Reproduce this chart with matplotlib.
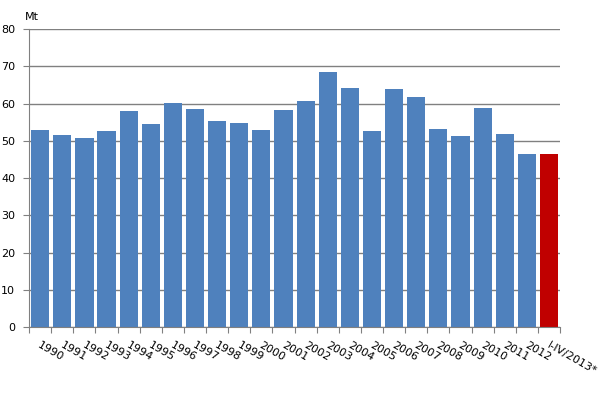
import numpy as np
import matplotlib.pyplot as plt

years = ['1990', '1991', '1992', '1993', '1994', '1995', '1996', '1997', '1998',
         '1999', '2000', '2001', '2002', '2003', '2004', '2005', '2006', '2007',
         '2008', '2009', '2010', '2011', '2012', 'I-IV/2013*']
values = [52.9, 51.5, 50.7, 52.6, 58.0, 54.5, 60.1, 58.5, 55.3,
          54.8, 52.9, 58.3, 60.7, 68.5, 64.2, 52.6, 63.9, 61.7,
          53.2, 51.3, 58.8, 51.8, 46.4, 46.4]
colors = ['#4F81BD'] * (len(values) - 1) + ['#C00000']

fig = plt.figure(figsize=(6.07, 4.18), dpi=100)
ax = fig.add_axes([0.048, 0.2177, 0.8746, 0.7129])

x = np.arange(len(values))
ax.bar(x, values, width=0.82, color=colors, zorder=2)

ax.set_xlim(-0.5, len(values) - 0.5)
ax.set_ylim(0, 80)
ax.set_yticks(range(0, 81, 10))
ax.yaxis.grid(True, color='#808080', linewidth=1, zorder=0)
ax.set_axisbelow(True)

for s in ['top', 'right']:
    ax.spines[s].set_visible(False)
for s in ['left', 'bottom']:
    ax.spines[s].set_color('#808080')

# ticks at category boundaries, labels at bar centres
ax.set_xticks(np.arange(len(values) + 1) - 0.5)
ax.set_xticklabels([])
ax.tick_params(axis='x', length=4, color='#808080')
ax.tick_params(axis='y', length=4, color='#808080', labelsize=8, pad=6)

for i, lab in enumerate(years):
    ax.annotate(lab, xy=(i, 0), xycoords=('data', 'axes fraction'),
                xytext=(-1, -12.5), textcoords='offset points',
                rotation=-30, rotation_mode='anchor', ha='left', va='center',
                fontsize=8)

fig.text(25 / 607, 1 - 16.5 / 418, 'Mt', fontsize=8, ha='left', va='center')

fig.savefig('out.png', dpi=100)
